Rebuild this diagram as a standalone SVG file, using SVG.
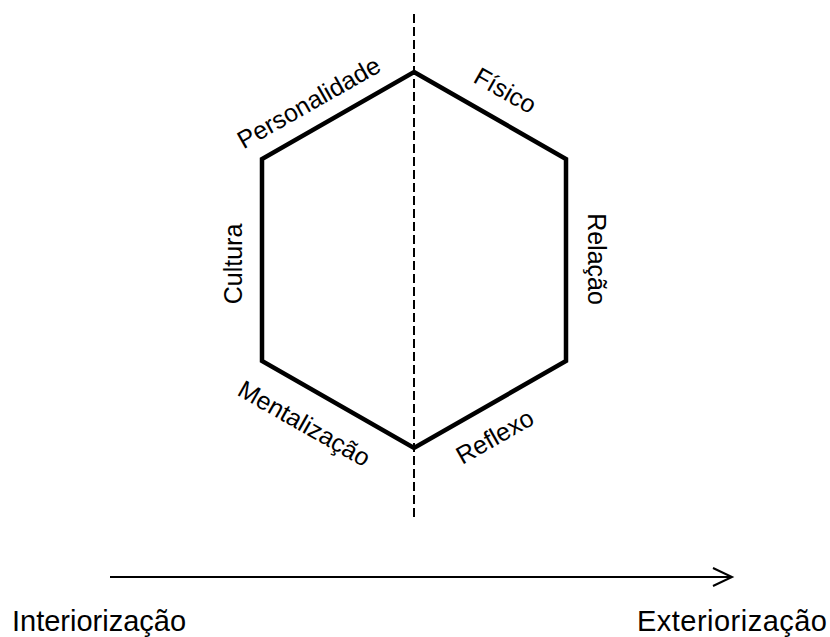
<svg xmlns="http://www.w3.org/2000/svg" width="830" height="637" viewBox="0 0 830 637">
<style>
.lbl{font-family:"Liberation Sans",Arial,sans-serif;font-size:25px;fill:#000;text-anchor:middle}
.axis{font-family:"Liberation Sans",Arial,sans-serif;font-size:29px;fill:#000}
</style>
<rect width="830" height="637" fill="#fff"/>
<g id="connectors">
<line x1="414" y1="14" x2="414" y2="521" stroke="#000" stroke-width="2" stroke-dasharray="9 4"/>
<line x1="110" y1="577" x2="731" y2="577" stroke="#000" stroke-width="2"/>
<path d="M713 568 L732 577 L713 586" fill="none" stroke="#000" stroke-width="2"/>
</g>
<g id="hexagon">
<polygon points="414,72 566,159 566,361 414,448 262,361 262,159" fill="none" stroke="#000" stroke-width="4.5" stroke-linejoin="miter"/>
</g>
<g id="personalidade"><text class="lbl" transform="translate(313,110) rotate(-29.6)">Personalidade</text></g>
<g id="fisico"><text class="lbl" transform="translate(501,98) rotate(29.6)">Físico</text></g>
<g id="cultura"><text class="lbl" transform="translate(242,264) rotate(-90)">Cultura</text></g>
<g id="relacao"><text class="lbl" transform="translate(588,259) rotate(90)">Relação</text></g>
<g id="mentalizacao"><text class="lbl" transform="translate(300,431) rotate(29.6)">Mentalização</text></g>
<g id="reflexo"><text class="lbl" transform="translate(499,444) rotate(-29.6)">Reflexo</text></g>
<g id="interiorizacao"><text class="axis" x="12" y="631">Interiorização</text></g>
<g id="exteriorizacao"><text class="axis" x="637" y="631" textLength="190">Exteriorização</text></g>
</svg>
